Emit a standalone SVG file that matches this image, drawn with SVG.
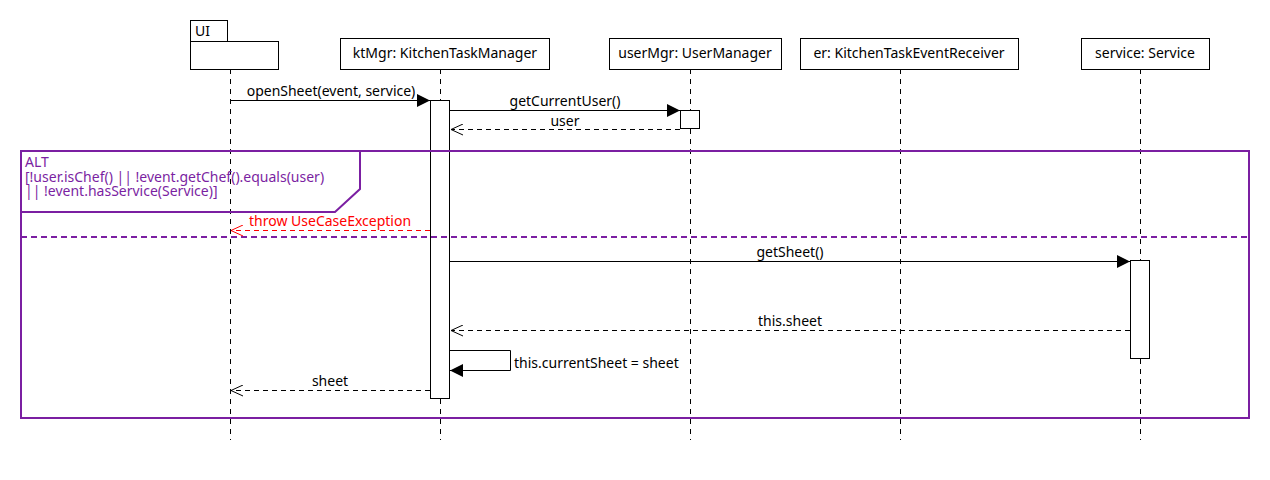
<svg xmlns="http://www.w3.org/2000/svg" width="1270" height="480" viewBox="0 0 1270 480">
  <style>
    text { font-family: "Noto Sans", "DejaVu Sans", sans-serif; font-size: 14px; fill: #000; }
    .box { fill: #fff; stroke: #000; stroke-width: 1; }
    .life { stroke: #000; stroke-width: 1; stroke-dasharray: 5 5; fill: none; }
    .act { fill: #fff; stroke: #000; stroke-width: 1; }
    .sync { stroke: #000; stroke-width: 1; fill: none; }
    .reply { stroke: #000; stroke-width: 1; stroke-dasharray: 5 4; fill: none; }
    .err { stroke: #ff0000; stroke-width: 1; stroke-dasharray: 5 4; fill: none; }
    .frame { fill: none; stroke: #7b1fa2; stroke-width: 2; }
    .sep { stroke: #7b1fa2; stroke-width: 2; stroke-dasharray: 6 4; fill: none; }
    .ftext { fill: #7b1fa2; }
    .red { fill: #ff0000; }
    .c { text-anchor: middle; }
  </style>
  <defs>
    <marker id="solid" viewBox="0 0 13 13" refX="13" refY="6.5" markerWidth="13" markerHeight="13" markerUnits="userSpaceOnUse" orient="auto">
      <path d="M0,0 L13,6.5 L0,13 z" fill="#000"/>
    </marker>
    <marker id="open" viewBox="0 0 12 12" refX="12" refY="6" markerWidth="12" markerHeight="12" markerUnits="userSpaceOnUse" orient="auto">
      <path d="M0,0.5 L12,6 L0,11.5" fill="none" stroke="#000" stroke-width="1"/>
    </marker>
    <marker id="openRed" viewBox="0 0 12 12" refX="12" refY="6" markerWidth="12" markerHeight="12" markerUnits="userSpaceOnUse" orient="auto">
      <path d="M0,0.5 L12,6 L0,11.5" fill="none" stroke="#ff0000" stroke-width="1"/>
    </marker>
  </defs>

  <!-- lifelines -->
  <g id="lifelines">
    <line class="life" x1="230.5" y1="69" x2="230.5" y2="440"/>
    <line class="life" x1="440.5" y1="69" x2="440.5" y2="440"/>
    <line class="life" x1="690.5" y1="69" x2="690.5" y2="440"/>
    <line class="life" x1="900.5" y1="69" x2="900.5" y2="440"/>
    <line class="life" x1="1140.5" y1="69" x2="1140.5" y2="440"/>
  </g>

  <!-- participants -->
  <g id="ui">
    <rect class="box" x="190.5" y="20.5" width="37" height="21"/>
    <rect class="box" x="190.5" y="41.5" width="88" height="28"/>
    <text x="195" y="36">UI</text>
  </g>
  <g id="ktMgr">
    <rect class="box" x="340.5" y="38.5" width="209" height="31"/>
    <text class="c" x="445" y="58">ktMgr: KitchenTaskManager</text>
  </g>
  <g id="userMgr">
    <rect class="box" x="609.5" y="38.5" width="172" height="31"/>
    <text class="c" x="695" y="58">userMgr: UserManager</text>
  </g>
  <g id="er">
    <rect class="box" x="800.5" y="38.5" width="218" height="31"/>
    <text class="c" x="909" y="58">er: KitchenTaskEventReceiver</text>
  </g>
  <g id="service">
    <rect class="box" x="1081.5" y="38.5" width="128" height="31"/>
    <text class="c" x="1145" y="58">service: Service</text>
  </g>

  <!-- activations -->
  <g id="activations">
    <rect class="act" x="430.5" y="100.5" width="19" height="298"/>
    <rect class="act" x="680.5" y="110.5" width="19" height="18"/>
    <rect class="act" x="1130.5" y="260.5" width="19" height="98"/>
  </g>

  <!-- alt fragment -->
  <g id="alt">
    <rect class="frame" x="21" y="151" width="1228" height="267"/>
    <path class="frame" d="M21,212 L335,212 L360,189 L360,151"/>
    <line class="sep" x1="21" y1="237" x2="1249" y2="237"/>
    <text class="ftext" x="25" y="167">ALT</text>
    <text class="ftext" x="25" y="182">[!user.isChef() || !event.getChef().equals(user)</text>
    <text class="ftext" x="25" y="196">|| !event.hasService(Service)]</text>
  </g>

  <!-- messages -->
  <g id="connectors">
    <line class="sync" x1="230" y1="100.5" x2="430" y2="100.5" marker-end="url(#solid)"/>
    <text class="c" x="331" y="96">openSheet(event, service)</text>

    <line class="sync" x1="450" y1="110.5" x2="680" y2="110.5" marker-end="url(#solid)"/>
    <text class="c" x="565" y="106">getCurrentUser()</text>

    <line class="reply" x1="680" y1="129.5" x2="451" y2="129.5" marker-end="url(#open)"/>
    <text class="c" x="565" y="126">user</text>

    <line class="err" x1="430" y1="230.5" x2="231" y2="230.5" marker-end="url(#openRed)"/>
    <text class="red" x="249" y="226">throw UseCaseException</text>

    <line class="sync" x1="450" y1="261.5" x2="1130" y2="261.5" marker-end="url(#solid)"/>
    <text class="c" x="790" y="257">getSheet()</text>

    <line class="reply" x1="1130" y1="330.5" x2="451" y2="330.5" marker-end="url(#open)"/>
    <text class="c" x="790" y="326">this.sheet</text>

    <path class="sync" d="M450,350.5 L510.5,350.5 L510.5,370.5 L450,370.5" marker-end="url(#solid)"/>
    <text x="514" y="368">this.currentSheet = sheet</text>

    <line class="reply" x1="430" y1="390.5" x2="231" y2="390.5" marker-end="url(#open)"/>
    <text class="c" x="330" y="386">sheet</text>
  </g>
</svg>
